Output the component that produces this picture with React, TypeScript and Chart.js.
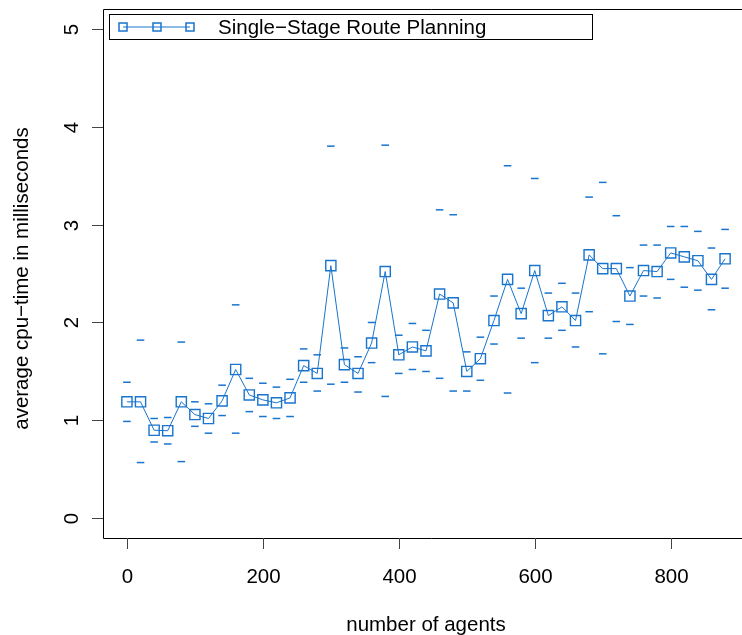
import React, { useEffect, useRef } from "react";
import { Chart, registerables } from "chart.js";

Chart.register(...registerables);

// Number of agents per experiment
const agents: number[] = [
  0, 20, 40, 60, 80, 100, 120, 140, 160, 180, 200, 220, 240, 260, 280, 300,
  320, 340, 360, 380, 400, 420, 440, 460, 480, 500, 520, 540, 560, 580, 600,
  620, 640, 660, 680, 700, 720, 740, 760, 780, 800, 820, 840, 860, 880,
];

// Average cpu-time (ms)
const meanTime: number[] = [
  1.19, 1.19, 0.9, 0.895, 1.19, 1.06, 1.02, 1.2, 1.52, 1.26, 1.21, 1.18, 1.23,
  1.56, 1.48, 2.58, 1.57, 1.48, 1.79, 2.52, 1.67, 1.75, 1.71, 2.29, 2.2, 1.5,
  1.63, 2.02, 2.44, 2.09, 2.53, 2.07, 2.16, 2.02, 2.69, 2.55, 2.55, 2.27, 2.53,
  2.52, 2.71, 2.67, 2.63, 2.44, 2.65,
];

// Upper bound of the spread
const upperTime: number[] = [
  1.39, 1.82, 1.02, 1.03, 1.8, 1.19, 1.17, 1.36, 2.18, 1.43, 1.38, 1.34, 1.42,
  1.73, 1.67, 3.8, 1.74, 1.65, 2.0, 3.81, 1.87, 1.99, 1.92, 3.15, 3.1, 1.7,
  1.85, 2.27, 3.6, 2.35, 3.47, 2.3, 2.4, 2.3, 3.28, 3.43, 3.09, 2.56, 2.79,
  2.79, 2.98, 2.98, 2.93, 2.76, 2.95,
];

// Lower bound of the spread
const lowerTime: number[] = [
  0.99, 0.57, 0.78, 0.76, 0.58, 0.94, 0.87, 1.05, 0.87, 1.09, 1.04, 1.02, 1.04,
  1.39, 1.3, 1.37, 1.39, 1.29, 1.59, 1.245, 1.48, 1.52, 1.5, 1.43, 1.3, 1.3,
  1.41, 1.78, 1.28, 1.84, 1.59, 1.84, 1.92, 1.75, 2.11, 1.68, 2.01, 1.98, 2.27,
  2.25, 2.44, 2.36, 2.33, 2.13, 2.35,
];

const xTicks: number[] = [0, 200, 400, 600, 800];
const yTicks: number[] = [0, 1, 2, 3, 4, 5];

const seriesLabel = "Single\u2212Stage Route Planning";
const xTitle = "number of agents";
const yTitle = "average cpu\u2212time in milliseconds";

const BLUE = "rgb(24,116,205)";
const FONT = "20.5px 'Liberation Sans', Arial, sans-serif";

const axesPlugin = {
  id: "baseAxes",
  afterDraw(chart: any) {
    const ctx = chart.ctx as CanvasRenderingContext2D;
    const { left, right, top, bottom } = chart.chartArea;
    const xs = chart.scales.x;
    const ys = chart.scales.y;
    const L = Math.round(left) + 0.5;
    const T = Math.round(top) + 0.5;
    const B = Math.round(bottom) + 0.5;
    ctx.save();
    ctx.strokeStyle = "#000";
    ctx.lineWidth = 1;
    // frame (its right side lies past the visible page edge)
    ctx.beginPath();
    ctx.moveTo(chart.width, T);
    ctx.lineTo(L, T);
    ctx.lineTo(L, B);
    ctx.lineTo(chart.width, B);
    ctx.stroke();

    ctx.fillStyle = "#000";
    ctx.font = FONT;
    // x axis ticks and labels
    ctx.strokeStyle = "#444";
    ctx.textAlign = "center";
    ctx.textBaseline = "middle";
    xTicks.forEach((v) => {
      const px = Math.round(xs.getPixelForValue(v)) + 0.5;
      ctx.beginPath();
      ctx.moveTo(px, bottom);
      ctx.lineTo(px, bottom + 11);
      ctx.stroke();
      ctx.fillText(String(v), px, bottom + 39);
    });
    // y axis ticks and rotated labels
    yTicks.forEach((v) => {
      const py = Math.round(ys.getPixelForValue(v)) + 0.5;
      ctx.beginPath();
      ctx.moveTo(left - 11, py);
      ctx.lineTo(left, py);
      ctx.stroke();
      ctx.save();
      ctx.translate(left - 31, py);
      ctx.rotate(-Math.PI / 2);
      ctx.fillText(String(v), 0, 0);
      ctx.restore();
    });
    // axis titles
    ctx.fillText(xTitle, (left + right) / 2, bottom + 87);
    ctx.save();
    ctx.translate(22, (top + bottom) / 2 + 5);
    ctx.rotate(-Math.PI / 2);
    ctx.fillText(yTitle, 0, 0);
    ctx.restore();

    // legend
    const lx = 109.5, ly = 14.5, lw = 483, lh = 25;
    ctx.fillStyle = "#fff";
    ctx.fillRect(lx, ly, lw, lh);
    ctx.strokeStyle = "#000";
    ctx.strokeRect(lx, ly, lw, lh);
    const cy = ly + lh / 2;
    ctx.strokeStyle = BLUE;
    ctx.lineWidth = 1;
    ctx.beginPath();
    ctx.moveTo(123, cy);
    ctx.lineTo(190, cy);
    ctx.stroke();
    ctx.lineWidth = 1.5;
    [123, 157, 190].forEach((cx) => {
      ctx.strokeRect(cx - 4, cy - 4, 8, 8);
    });
    ctx.fillStyle = "#000";
    ctx.textAlign = "left";
    ctx.fillText(seriesLabel, 218, cy + 1);
    ctx.restore();
  },
};

export default function App() {
  const canvasRef = useRef<HTMLCanvasElement | null>(null);

  useEffect(() => {
    const canvas = canvasRef.current;
    if (!canvas) return;
    const toPts = (ys: number[]) => agents.map((x, i) => ({ x, y: ys[i] }));
    const chart = new Chart(canvas, {
      type: "line",
      data: {
        datasets: [
          {
            label: seriesLabel,
            data: toPts(meanTime),
            borderColor: BLUE,
            borderWidth: 1,
            pointStyle: "rect",
            pointRadius: 7.2,
            pointBorderWidth: 1.4,
            pointBorderColor: BLUE,
            pointBackgroundColor: "rgba(0,0,0,0)",
            fill: false,
            tension: 0,
          },
          {
            label: "upper",
            data: toPts(upperTime),
            showLine: false,
            pointStyle: "line",
            pointRadius: 3.8,
            pointBorderWidth: 1.5,
            pointBorderColor: BLUE,
            borderColor: BLUE,
          },
          {
            label: "lower",
            data: toPts(lowerTime),
            showLine: false,
            pointStyle: "line",
            pointRadius: 3.8,
            pointBorderWidth: 1.5,
            pointBorderColor: BLUE,
            borderColor: BLUE,
          },
        ],
      },
      options: {
        responsive: false,
        animation: false,
        devicePixelRatio: 1,
        layout: { padding: { left: 103, top: 9, right: 11, bottom: 97 } },
        scales: {
          x: { type: "linear", display: false, min: -35.2, max: 915.2 },
          y: { type: "linear", display: false, min: -0.2, max: 5.2 },
        },
        plugins: {
          legend: { display: false },
          tooltip: { enabled: false },
        },
      },
      plugins: [axesPlugin],
    });
    return () => chart.destroy();
  }, []);

  return (
    <div
      style={{
        position: "absolute",
        left: 0,
        top: 0,
        width: 742,
        height: 635,
        overflow: "hidden",
        background: "#fff",
      }}
    >
      <canvas ref={canvasRef} width={760} height={635} style={{ display: "block" }} />
    </div>
  );
}
